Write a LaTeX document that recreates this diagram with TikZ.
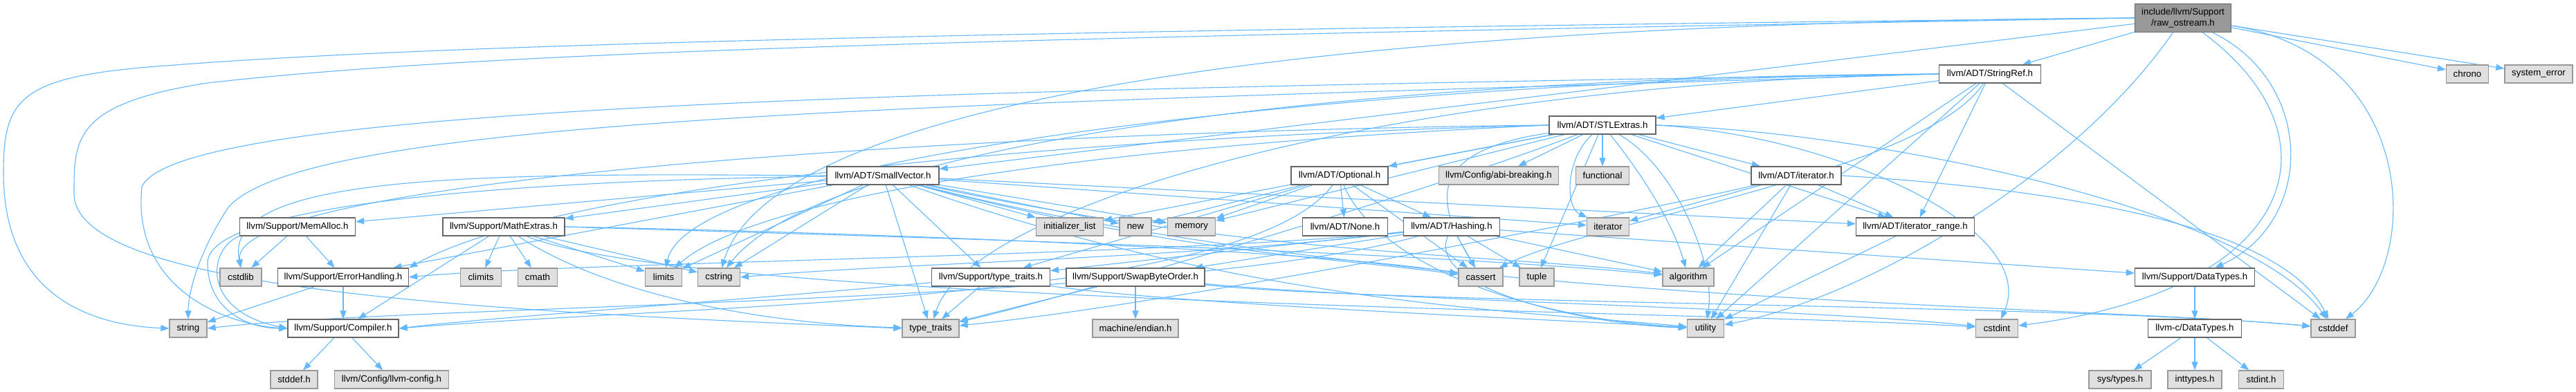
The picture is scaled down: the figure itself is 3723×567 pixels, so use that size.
\documentclass[tikz,border=0pt]{standalone}
\usepackage{fontspec}
\setmainfont{Liberation Sans}
\usepackage{tikz}
\usetikzlibrary{arrows.meta,backgrounds}
\definecolor{edgeblue}{HTML}{63B8FF}
\definecolor{sysfill}{HTML}{E0E0E0}
\definecolor{sysline}{HTML}{999999}
\definecolor{hdrline}{HTML}{666666}
\definecolor{rootfill}{HTML}{999999}

\begin{document}
\begin{tikzpicture}[
  x=1pt, y=-1pt,
  every node/.style={font=\fontsize{13.3}{15.5}\selectfont, inner sep=0pt, minimum height=26pt, align=center},
  hdr/.style={draw=hdrline, line width=1.3pt, fill=white},
  sys/.style={draw=sysline, line width=1.3pt, fill=sysfill},
  root/.style={draw=hdrline, line width=1.3pt, fill=rootfill, minimum height=41pt},
  incl/.style={draw=edgeblue, line width=1.1pt, -{Triangle[length=12pt,width=9pt]}, fill=none}
]
\useasboundingbox (0,0) rectangle (3723,567);

\node[root, minimum width=139pt] (raw) at (3155,26) {include/llvm/Support\\/raw\_ostream.h};

\node[hdr, minimum width=147pt] (stringref) at (2876,107) {llvm/ADT/StringRef.h};
\node[sys, minimum width=61pt] (chrono) at (3566,107) {chrono};
\node[sys, minimum width=98pt] (syserror) at (3669,107) {system\_error};

\node[hdr, minimum width=154pt] (stlextras) at (2316,181) {llvm/ADT/STLExtras.h};

\node[hdr, minimum width=162pt] (smallvec) at (1276,254) {llvm/ADT/SmallVector.h};
\node[hdr, minimum width=140pt] (optional) at (1936,254) {llvm/ADT/Optional.h};
\node[sys, minimum width=173pt] (abibreak) at (2166,254) {llvm/Config/abi-breaking.h};
\node[sys, minimum width=77pt] (functional) at (2316,254) {functional};
\node[hdr, minimum width=130pt] (iterh) at (2596,254) {llvm/ADT/iterator.h};

\node[hdr, minimum width=167pt] (memalloc) at (430,328) {llvm/Support/MemAlloc.h};
\node[hdr, minimum width=176pt] (mathext) at (728,328) {llvm/Support/MathExtras.h};
\node[sys, minimum width=97pt] (initlist) at (1546,328) {initializer\_list};
\node[sys, minimum width=46pt] (new) at (1641,328) {new};
\node[sys, minimum width=69pt] (memory) at (1722,328) {memory};
\node[hdr, minimum width=123pt] (none) at (1944,328) {llvm/ADT/None.h};
\node[hdr, minimum width=139pt] (hashing) at (2098,328) {llvm/ADT/Hashing.h};
\node[sys, minimum width=61pt] (iterator) at (2324,328) {iterator};
\node[hdr, minimum width=171pt] (itrange) at (2768,328) {llvm/ADT/iterator\_range.h};

\node[sys, minimum width=60pt] (cstdlib) at (348,401) {cstdlib};
\node[hdr, minimum width=189pt] (errhand) at (496,401) {llvm/Support/ErrorHandling.h};
\node[sys, minimum width=59pt] (climits) at (695,401) {climits};
\node[sys, minimum width=57pt] (cmath) at (777,401) {cmath};
\node[sys, minimum width=53pt] (limits) at (959,401) {limits};
\node[sys, minimum width=61pt] (cstring) at (1039,401) {cstring};
\node[hdr, minimum width=171pt] (typetraitsh) at (1432,401) {llvm/Support/type\_traits.h};
\node[hdr, minimum width=200pt] (swapbyte) at (1641,401) {llvm/Support/SwapByteOrder.h};
\node[sys, minimum width=64pt] (cassert) at (2140,401) {cassert};
\node[sys, minimum width=50pt] (tuple) at (2221,401) {tuple};
\node[sys, minimum width=74pt] (algorithm) at (2440,401) {algorithm};
\node[hdr, minimum width=173pt] (datatypes) at (3172,401) {llvm/Support/DataTypes.h};

\node[sys, minimum width=54pt] (string) at (272,475) {string};
\node[hdr, minimum width=160pt] (compiler) at (496,475) {llvm/Support/Compiler.h};
\node[sys, minimum width=82pt] (typetraits) at (1345,475) {type\_traits};
\node[sys, minimum width=124pt] (endian) at (1641,475) {machine/endian.h};
\node[sys, minimum width=53pt] (utility) at (2465,475) {utility};
\node[sys, minimum width=61pt] (cstdint) at (2886,475) {cstdint};
\node[hdr, minimum width=135pt] (cdatatypes) at (3172,475) {llvm-c/DataTypes.h};
\node[sys, minimum width=64pt] (cstddef) at (3372,475) {cstddef};

\node[sys, minimum width=68pt] (stddefh) at (425,549) {stddef.h};
\node[sys, minimum width=165pt] (llvmconfig) at (566,549) {llvm/Config/llvm-config.h};
\node[sys, minimum width=90pt] (systypes) at (3064,549) {sys/types.h};
\node[sys, minimum width=78pt] (inttypes) at (3172,549) {inttypes.h};
\node[sys, minimum width=65pt] (stdint) at (3268,549) {stdint.h};

\begin{scope}[on background layer]
\fill[white] (0,0) rectangle (3723,567);
% raw_ostream.h
\draw[incl] (raw) -- (stringref);
\draw[incl] (raw) -- (chrono);
\draw[incl] (raw) -- (syserror);
\draw[incl] (raw) -- (smallvec);
\draw[incl] (raw) .. controls (3346,120) and (3346,320) .. (datatypes);
\draw[incl] (raw) .. controls (3390,200) and (3320,420) .. (cstdint);
\draw[incl] (raw) .. controls (3497,80) and (3497,380) .. (cstddef);
\draw[incl] (raw) .. controls (3000,250) and (2700,430) .. (utility);
\draw[incl] (raw.west) .. controls (1600,35) and (1100,200) .. (cstring);
\draw[incl] (raw.west) .. controls (1400,45) and (620,65) .. (240,95) .. controls (30,110) and (5,140) .. (5,250) .. controls (5,420) and (120,470) .. (string.west);
\draw[incl] (raw.west) .. controls (1400,55) and (700,75) .. (300,120) .. controls (107,150) and (107,200) .. (107,280) .. controls (107,420) and (700,450) .. (typetraits.west);
% StringRef.h
\draw[incl] (stringref) -- (stlextras);
\draw[incl] (stringref) -- (itrange);
\draw[incl] (stringref) -- (algorithm);
\draw[incl] (stringref) -- (utility);
\draw[incl] (stringref) -- (cstddef);
\draw[incl] (stringref) .. controls (2780,250) and (2300,320) .. (cassert);
\draw[incl] (stringref.west) .. controls (2000,110) and (1200,200) .. (cstring);
\draw[incl] (stringref.west) .. controls (2000,115) and (1000,220) .. (limits);
\draw[incl] (stringref.west) .. controls (2000,120) and (1400,300) .. (typetraits);
\draw[incl] (stringref.west) .. controls (1500,150) and (450,160) .. (330,300) .. controls (290,360) and (272,420) .. (string.north);
\draw[incl] (stringref.west) .. controls (1400,130) and (260,150) .. (205,270) .. controls (190,420) and (330,470) .. (compiler.west);
% STLExtras.h
\draw[incl] (stlextras) -- (optional);
\draw[incl] (stlextras) -- (abibreak);
\draw[incl] (stlextras) -- (functional);
\draw[incl] (stlextras) -- (iterh);
\draw[incl] (stlextras) -- (itrange);
\draw[incl] (stlextras) -- (initlist);
\draw[incl] (stlextras) -- (memory);
\draw[incl] (stlextras) -- (tuple);
\draw[incl] (stlextras.east) .. controls (2650,195) and (2950,330) .. (cstdint);
\draw[incl] (stlextras.east) .. controls (2700,190) and (3250,300) .. (cstddef);
\draw[incl] (stlextras) .. controls (2262,230) and (2262,300) .. (iterator);
\draw[incl] (stlextras) .. controls (2050,220) and (2080,300) .. (cassert);
\draw[incl] (stlextras) .. controls (2380,260) and (2420,330) .. (algorithm);
\draw[incl] (stlextras) .. controls (2420,240) and (2480,380) .. (utility);
\draw[incl] (stlextras) .. controls (2000,300) and (1500,440) .. (typetraits);
\draw[incl] (stlextras.west) .. controls (1600,210) and (1100,280) .. (limits);
\draw[incl] (stlextras.west) .. controls (1500,200) and (800,270) .. (errhand.north east);
\draw[incl] (stlextras.west) .. controls (1400,190) and (330,260) .. (cstdlib.north);
% SmallVector.h
\draw[incl] (smallvec) -- (itrange);
\draw[incl] (smallvec) -- (errhand);
\draw[incl] (smallvec) -- (mathext);
\draw[incl] (smallvec) -- (memalloc);
\draw[incl] (smallvec) -- (typetraitsh);
\draw[incl] (smallvec) -- (cstring);
\draw[incl] (smallvec) -- (initlist);
\draw[incl] (smallvec) -- (iterator);
\draw[incl] (smallvec) -- (limits);
\draw[incl] (smallvec) -- (memory);
\draw[incl] (smallvec) -- (new);
\draw[incl] (smallvec) -- (typetraits);
\draw[incl] (smallvec) .. controls (1800,370) and (2200,370) .. (algorithm);
\draw[incl] (smallvec) .. controls (1700,365) and (1900,370) .. (cassert);
\draw[incl] (smallvec) .. controls (2000,440) and (3000,440) .. (cstddef);
\draw[incl] (smallvec) .. controls (1800,440) and (2200,450) .. (utility);
\draw[incl] (smallvec.west) .. controls (700,250) and (320,250) .. (cstdlib.north);
\draw[incl] (smallvec) .. controls (700,262) and (300,300) .. (300,380) .. controls (300,450) and (360,475) .. (compiler.west);
% Optional.h
\draw[incl] (optional) -- (hashing);
\draw[incl] (optional) -- (none);
\draw[incl] (optional) -- (typetraitsh);
\draw[incl] (optional) -- (memory);
\draw[incl] (optional) -- (new);
\draw[incl] (optional) -- (cassert);
\draw[incl] (optional) .. controls (1990,380) and (2200,460) .. (utility);
\draw[incl] (optional) .. controls (1800,440) and (1000,440) .. (compiler.east);
% iterator.h
\draw[incl] (iterh) -- (itrange);
\draw[incl] (iterh) -- (algorithm);
\draw[incl] (iterh) -- (iterator);
\draw[incl] (iterh) -- (utility);
\draw[incl] (iterh.east) .. controls (3000,275) and (3300,330) .. (cstddef);
\draw[incl] (iterh) .. controls (2400,300) and (1700,440) .. (typetraits);
% MemAlloc.h
\draw[incl] (memalloc) -- (errhand);
\draw[incl] (memalloc) -- (cstdlib);
\draw[incl] (memalloc.south west) .. controls (300,360) and (290,450) .. (compiler.west);
% MathExtras.h
\draw[incl] (mathext) -- (compiler);
\draw[incl] (mathext) -- (climits);
\draw[incl] (mathext) -- (cmath);
\draw[incl] (mathext) -- (limits);
\draw[incl] (mathext) -- (cstring);
\draw[incl] (mathext.east) .. controls (1200,340) and (2000,360) .. (algorithm);
\draw[incl] (mathext.east) .. controls (1200,335) and (1900,360) .. (cassert);
\draw[incl] (mathext) .. controls (1000,440) and (2500,450) .. (cstdint);
\draw[incl] (mathext) .. controls (900,440) and (1150,470) .. (typetraits);
% Hashing.h
\draw[incl] (hashing) -- (swapbyte);
\draw[incl] (hashing) -- (typetraitsh);
\draw[incl] (hashing) -- (algorithm);
\draw[incl] (hashing) -- (cassert);
\draw[incl] (hashing) -- (tuple);
\draw[incl] (hashing) -- (datatypes);
\draw[incl] (hashing) .. controls (2060,420) and (2300,470) .. (utility);
\draw[incl] (hashing) .. controls (1700,375) and (1300,380) .. (cstring.east);
\draw[incl] (hashing) .. controls (1700,370) and (800,380) .. (errhand.east);
\draw[incl] (hashing) .. controls (1700,440) and (600,440) .. (string.east);
% the rest
\draw[incl] (itrange) -- (utility);
\draw[incl] (errhand) -- (compiler);
\draw[incl] (errhand) -- (string);
\draw[incl] (typetraitsh) -- (typetraits);
\draw[incl] (typetraitsh) .. controls (1000,440) and (700,460) .. (compiler.east);
\draw[incl] (typetraitsh) .. controls (1700,440) and (2200,460) .. (utility);
\draw[incl] (swapbyte) -- (typetraits);
\draw[incl] (swapbyte) -- (endian);
\draw[incl] (swapbyte) .. controls (2000,440) and (3000,440) .. (cstddef);
\draw[incl] (swapbyte) .. controls (2000,435) and (2600,445) .. (cstdint);
\draw[incl] (datatypes) -- (cdatatypes);
\draw[incl] (cdatatypes) -- (systypes);
\draw[incl] (cdatatypes) -- (inttypes);
\draw[incl] (cdatatypes) -- (stdint);
\draw[incl] (compiler) -- (stddefh);
\draw[incl] (compiler) -- (llvmconfig);
\end{scope}
\end{tikzpicture}
\end{document}
